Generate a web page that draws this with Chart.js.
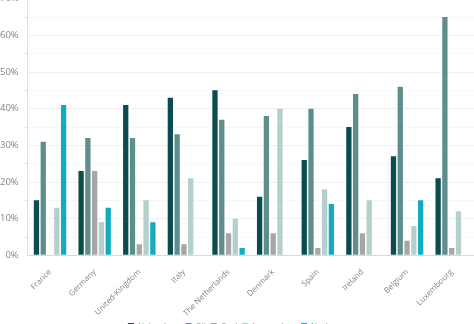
<!DOCTYPE html>
<html lang="en">
<head>
    <meta charset="UTF-8">
    <title>Energy mix by country</title>
    <script src="https://cdn.jsdelivr.net/npm/chart.js"></script>
    <style>
        html, body { margin: 0; padding: 0; background: #fff; overflow: hidden; }
        #wrap { position: absolute; left: -6px; top: -13px; width: 480px; height: 353px; }
    </style>
</head>
<body>
    <div id="wrap">
        <canvas id="myChart"></canvas>
    </div>
<script>
    // 国ごとのエネルギー構成 (%)
    const countries = ["France", "Germany", "United-Kingdom", "Italy", "The Netherlands",
        "Denmark", "Spain", "Ireland", "Belgium", "Luxembourg"];
    const naturalGas = [15, 23, 41, 43, 45, 16, 26, 35, 27, 21];
    const oil        = [31, 32, 32, 33, 37, 38, 40, 44, 46, 65];
    const coal       = [0, 23, 3, 3, 6, 6, 2, 6, 4, 2];
    const lowCarbon  = [13, 9, 15, 21, 10, 40, 18, 15, 8, 12];
    const nuclear    = [41, 13, 9, 0, 2, 0, 14, 0, 15, 0];

    const seriesNames  = ["Natural gas", "Oil", "Coal", "Low-carbon", "Nuclear"];
    const seriesColors = ["#0b4c4e", "#5e8e8b", "#a6a6a6", "#b5cfcd", "#13acbf"];
    const seriesData   = [naturalGas, oil, coal, lowCarbon, nuclear];

    const textColor = "#858585";
    const fontFamily = "'Open Sans', 'Noto Sans', sans-serif";

    const datasets = seriesNames.map((name, i) => ({
        label: name,
        data: seriesData[i],
        backgroundColor: seriesColors[i],
        borderWidth: 0,
        categoryPercentage: 0.76,
        barPercentage: 0.78
    }));

    const ctx = document.getElementById("myChart");
    const myChart = new Chart(ctx, {
        type: 'bar',
        data: { labels: countries, datasets: datasets },
        options: {
            responsive: true,
            maintainAspectRatio: false,
            animation: false,
            layout: { padding: 0 },
            scales: {
                x: {
                    grid: { display: false },
                    border: { color: "#d9d9d9" },
                    ticks: {
                        color: textColor,
                        font: { family: fontFamily, size: 8 },
                        minRotation: 45,
                        maxRotation: 45,
                        padding: 4
                    },
                    // ラベル下の余白を詰める
                    afterFit: (scale) => { scale.height -= 5; }
                },
                y: {
                    min: 0,
                    max: 70,
                    border: { color: "#e3e3e3" },
                    grid: {
                        color: (c) => c.tick && c.tick.value % 10 === 0 ? "#f0f0f0" : "#f7f7f7",
                        tickColor: (c) => c.tick && c.tick.value % 10 === 0 ? "rgba(0,0,0,0)" : "#dcdcdc",
                        tickLength: 3
                    },
                    ticks: {
                        stepSize: 5,
                        color: textColor,
                        font: { family: fontFamily, size: 9.5 },
                        padding: 6,
                        callback: (v) => v % 10 === 0 ? v + "%" : ""
                    }
                }
            },
            plugins: {
                legend: {
                    display: true,
                    position: 'bottom',
                    labels: {
                        color: textColor,
                        font: { family: fontFamily, size: 8 },
                        boxWidth: 6,
                        boxHeight: 6,
                        padding: 5
                    }
                },
                tooltip: { enabled: false }
            }
        }
    });
</script>
</body>
</html>
